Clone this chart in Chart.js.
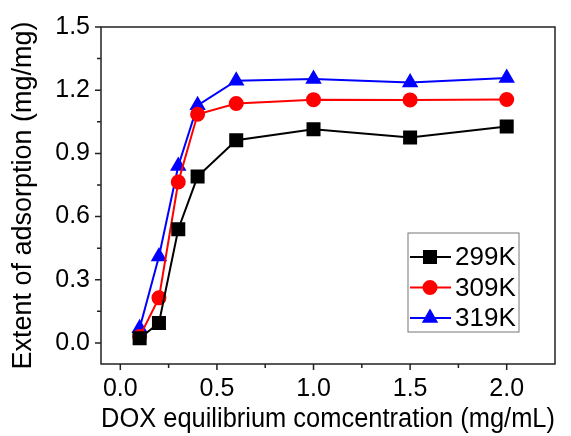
<!DOCTYPE html>
<html>
<head>
<meta charset="utf-8">
<script src="https://cdn.jsdelivr.net/npm/chart.js@4.4.1/dist/chart.umd.min.js"></script>
<style>
  html, body { margin: 0; padding: 0; background: #fff; }
  #wrap { width: 571px; height: 436px; }
</style>
</head>
<body>
<div id="wrap"><canvas id="myChart" width="571" height="436"></canvas></div>
<script>
// data
const concentration = [0.1, 0.2, 0.3, 0.4, 0.6, 1.0, 1.5, 2.0];
const ads299 = [0.022, 0.095, 0.54, 0.79, 0.962, 1.014, 0.975, 1.028];
const ads309 = [0.03, 0.214, 0.764, 1.086, 1.137, 1.155, 1.154, 1.156];
const ads319 = [0.07, 0.41, 0.84, 1.128, 1.245, 1.253, 1.236, 1.258];
const seriesNames = ['299K', '309K', '319K'];

const xMajor = [0, 0.5, 1.0, 1.5, 2.0];
const xMinor = [0.25, 0.75, 1.25, 1.75];
const yMajor = [0, 0.3, 0.6, 0.9, 1.2, 1.5];
const yMinor = [0.15, 0.45, 0.75, 1.05, 1.35];

const FONT = '"Liberation Sans", Arial, sans-serif';

function pts(ys) {
  return concentration.map((x, i) => ({ x: x, y: ys[i] }));
}

// frame, minor/major ticks and the inset legend
const framePlugin = {
  id: 'frame',
  afterDraw(chart) {
    const c = chart.ctx;
    const a = chart.chartArea;
    const xs = chart.scales.x, ys = chart.scales.y;
    c.save();
    c.strokeStyle = '#222';
    c.lineWidth = 1.5;
    c.strokeRect(a.left, a.top, a.right - a.left, a.bottom - a.top);

    c.beginPath();
    xMajor.forEach(v => { const p = xs.getPixelForValue(v); c.moveTo(p, a.bottom); c.lineTo(p, a.bottom + 6); });
    xMinor.forEach(v => { const p = xs.getPixelForValue(v); c.moveTo(p, a.bottom); c.lineTo(p, a.bottom + 4); });
    yMajor.forEach(v => { const p = ys.getPixelForValue(v); c.moveTo(a.left, p); c.lineTo(a.left - 6, p); });
    yMinor.forEach(v => { const p = ys.getPixelForValue(v); c.moveTo(a.left, p); c.lineTo(a.left - 4, p); });
    c.stroke();

    // legend
    const bx = 408, by = 233, bw = 111, bh = 99;
    c.fillStyle = '#fff';
    c.fillRect(bx, by, bw, bh);
    c.strokeStyle = '#777';
    c.lineWidth = 1;
    c.strokeRect(bx, by, bw, bh);
    c.font = '26px ' + FONT;
    c.textBaseline = 'middle';
    chart.data.datasets.forEach((ds, i) => {
      const cy = 257 + i * 30.5;
      c.strokeStyle = ds.borderColor;
      c.lineWidth = 2;
      c.beginPath();
      c.moveTo(bx + 2, cy);
      c.lineTo(bx + 43, cy);
      c.stroke();
      Chart.helpers.drawPoint(c, {
        pointStyle: ds.pointStyle,
        radius: ds.pointRadius,
        borderWidth: 1
      }, bx + 22, cy);
      c.fillStyle = ds.backgroundColor;
      c.fill();
      c.fillStyle = '#000';
      c.fillText(ds.label, bx + 47, cy + 1);
    });
    c.restore();
  }
};

new Chart(document.getElementById('myChart'), {
  type: 'line',
  data: {
    datasets: [
      {
        label: seriesNames[0],
        data: pts(ads299),
        borderColor: '#000000',
        backgroundColor: '#000000',
        pointStyle: 'rect',
        pointRadius: 8.5,
        borderWidth: 2
      },
      {
        label: seriesNames[1],
        data: pts(ads309),
        borderColor: '#ff0000',
        backgroundColor: '#ff0000',
        pointStyle: 'circle',
        pointRadius: 6.5,
        borderWidth: 2
      },
      {
        label: seriesNames[2],
        data: pts(ads319),
        borderColor: '#0000ff',
        backgroundColor: '#0000ff',
        pointStyle: 'triangle',
        pointRadius: 7.5,
        borderWidth: 2
      }
    ]
  },
  options: {
    responsive: false,
    animation: false,
    layout: { padding: { top: 27, right: 16, left: 0, bottom: 0 } },
    elements: { point: { borderWidth: 1 }, line: { tension: 0 } },
    plugins: {
      legend: { display: false },
      tooltip: { enabled: false }
    },
    scales: {
      x: {
        type: 'linear',
        min: -0.1,
        max: 2.25,
        grid: { display: false, drawTicks: false },
        border: { display: false },
        afterBuildTicks: s => { s.ticks = xMajor.map(v => ({ value: v })); },
        afterFit: s => { s.height = 72; },
        ticks: {
          color: '#000',
          padding: 10,
          maxRotation: 0,
          font: { family: FONT, size: 25 },
          callback: v => Number(v).toFixed(1)
        },
        title: {
          display: true,
          text: 'DOX equilibrium comcentration (mg/mL)',
          color: '#000',
          padding: 0,
          font: { family: FONT, size: 27 }
        }
      },
      y: {
        type: 'linear',
        min: -0.1,
        max: 1.5,
        grid: { display: false, drawTicks: false },
        border: { display: false },
        afterBuildTicks: s => { s.ticks = yMajor.map(v => ({ value: v })); },
        afterFit: s => { s.width = 101; },
        ticks: {
          color: '#000',
          padding: 11,
          font: { family: FONT, size: 25 },
          callback: v => Number(v).toFixed(1)
        },
        title: {
          display: true,
          text: 'Extent of adsorption (mg/mg)',
          color: '#000',
          padding: { top: 7, bottom: 0 },
          font: { family: FONT, size: 27 }
        }
      }
    }
  },
  plugins: [framePlugin]
});
</script>
</body>
</html>
